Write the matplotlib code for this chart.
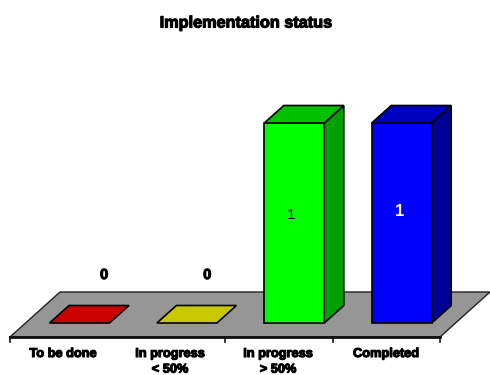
import matplotlib
matplotlib.use("Agg")
import matplotlib.pyplot as plt
import matplotlib.patheffects as pe
from matplotlib.patches import Polygon

plt.rcParams['font.family'] = ['Liberation Sans', 'DejaVu Sans']

categories = ["To be done", "In progress\n< 50%", "In progress\n> 50%", "Completed"]
values = [0, 0, 1, 1]
value_labels = ["0", "0", "1", "1"]
title = "Implementation status"

FRONT = ["#ff0000", "#ffff00", "#00ff00", "#0000ff"]
TOP = ["#c80000", "#c8c800", "#00c000", "#0000c0"]
SIDE = ["#a00000", "#a0a000", "#00a000", "#000096"]
LABEL_COLORS = ["black", "black", "#111111", "white"]
LABEL_WEIGHTS = ["bold", "bold", "normal", "bold"]
LABEL_SIZES = [10.5, 10.5, 11, 12]
FLOOR = "#969696"

W, H = 490, 375
X_UNIT, Y_UNIT = 107.4, 200.0   # pixels per category / per unit of value
X0_PX, Y0_PX = 79.5, 323.0      # pixel position of category 0, value 0
BAR_W = 60 / X_UNIT
DX, DY = 19.5 / X_UNIT, 17.5 / Y_UNIT   # 3-D depth of a bar

fig = plt.figure(figsize=(W / 100, H / 100), dpi=100)
ax = fig.add_axes([0, 0, 1, 1])
ax.set_xlim((0 - X0_PX) / X_UNIT, (W - X0_PX) / X_UNIT)
ax.set_ylim((Y0_PX - H) / Y_UNIT, Y0_PX / Y_UNIT)
ax.axis("off")

heavy = [pe.withStroke(linewidth=0.8, foreground="black")]

# Floor of the 3-D plot
fx0 = (10 - X0_PX) / X_UNIT
fx1 = (440 - X0_PX) / X_UNIT
fy0 = -14 / Y_UNIT
floor_dx, floor_dy = 50 / X_UNIT, 45 / Y_UNIT
ax.add_patch(Polygon([(fx0, fy0), (fx1, fy0), (fx1 + floor_dx, fy0 + floor_dy),
                      (fx0 + floor_dx, fy0 + floor_dy)],
                     facecolor=FLOOR, edgecolor="#222222", lw=1.0, zorder=1))
ax.plot([fx0, fx1], [fy0, fy0], color="#111111", lw=2.0, zorder=2)

# Tick marks along the front edge of the floor
tick_len = 5 / Y_UNIT
for i in (0, 2, 3, 4):
    tx = fx0 + i * (fx1 - fx0) / len(categories)
    ax.plot([tx, tx], [fy0, fy0 - tick_len], color="#111111", lw=1.2, zorder=2)

# Bars: front, top and side faces
for i, v in enumerate(values):
    l, r = i - BAR_W / 2, i + BAR_W / 2
    kw = dict(edgecolor="black", lw=1.2, joinstyle="miter", zorder=3 + i)
    if v > 0:
        ax.add_patch(Polygon([(r, 0), (r + DX, DY), (r + DX, v + DY), (r, v)], facecolor=SIDE[i], **kw))
        ax.add_patch(Polygon([(l, 0), (r, 0), (r, v), (l, v)], facecolor=FRONT[i], **kw))
    ax.add_patch(Polygon([(l, v), (r, v), (r + DX, v + DY), (l + DX, v + DY)], facecolor=TOP[i], **kw))

# Value labels
label_offsets = [(0.23, 0.24), (0.19, 0.24), (-0.03, -0.46), (-0.02, -0.445)]
for i, v in enumerate(values):
    ox, oy = label_offsets[i]
    ax.text(i + ox, v + oy, value_labels[i], ha="center", va="center",
            fontsize=LABEL_SIZES[i], fontweight=LABEL_WEIGHTS[i], color=LABEL_COLORS[i], zorder=10,
            path_effects=heavy if LABEL_COLORS[i] == "black" else None)

# Category labels under the floor
cat_px = [63, 170, 278, 386]
for cx, label in zip(cat_px, categories):
    ax.text((cx - X0_PX) / X_UNIT, (Y0_PX - 348) / Y_UNIT, label, ha="center", va="top",
            fontsize=9.2, fontweight="bold", color="black", linespacing=1.4,
            path_effects=heavy, zorder=10)

ax.text((246 - X0_PX) / X_UNIT, (Y0_PX - 23) / Y_UNIT, title, ha="center", va="center",
        fontsize=11.7, fontweight="bold", color="black", path_effects=heavy, zorder=10)

fig.savefig("out.png", dpi=100)
